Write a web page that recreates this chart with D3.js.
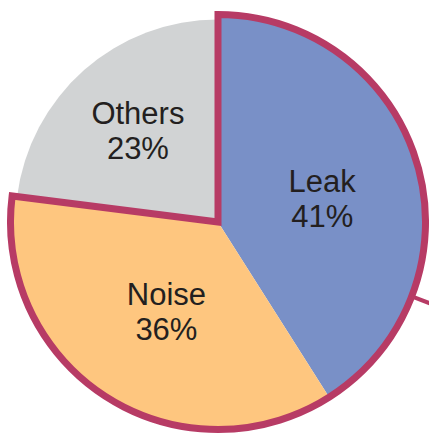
<!DOCTYPE html>
<html>
<head>
<meta charset="utf-8">
<script src="https://cdn.jsdelivr.net/npm/d3@7"></script>
<style>
  html, body { margin: 0; padding: 0; background: #fff; }
  svg { display: block; }
</style>
</head>
<body>
<svg id="chart" width="429" height="434"></svg>
<script>
const categories = ['Leak', 'Noise', 'Others']
const shares = [41, 36, 23]
const colors = ['#7990c7', '#fec67f', '#d1d3d4']
// slices that get the crimson outline together
const outlined = ['Leak', 'Noise']

const width = 429
const height = 434
const center = { x: 218, y: 222 }
const radius = 207.5
const othersRadius = 202.5
const borderColor = '#b73b65'
const borderWidth = 7
const labelRadius = 215
const labelNudge = { Leak: [1, 7], Noise: [6, -1], Others: [-9, -10] }
const leaderDeg = 111

const data = categories.map((c, i) => ({ name: c, value: shares[i], color: colors[i] }))

const pie = d3.pie().sort(null).value(d => d.value)
const arcs = pie(data)

const svg = d3.select('#chart')
const g = svg.append('g').attr('transform', `translate(${center.x},${center.y})`)

const arc = d3.arc().innerRadius(0)

// fills
g.selectAll('path.slice').data(arcs)
  .enter().append('path')
  .attr('class', 'slice')
  .attr('fill', d => d.data.color)
  .attr('d', d => arc.outerRadius(outlined.includes(d.data.name) ? radius : othersRadius)(d))

// outline around Leak + Noise as one wedge
const group = arcs.filter(d => outlined.includes(d.data.name))
const start = d3.min(group, d => d.startAngle)
const end = d3.max(group, d => d.endAngle)
g.append('path')
  .attr('fill', 'none')
  .attr('stroke', borderColor)
  .attr('stroke-width', borderWidth)
  .attr('stroke-linejoin', 'miter')
  .attr('d', d3.arc().innerRadius(0).outerRadius(radius)({ startAngle: start, endAngle: end }))

// short leader leaving the outline on the right
const leaderAngle = leaderDeg * Math.PI / 180
const pt = r => [r * Math.sin(leaderAngle), -r * Math.cos(leaderAngle)]
g.append('line')
  .attr('x1', pt(radius)[0]).attr('y1', pt(radius)[1])
  .attr('x2', pt(radius + 40)[0]).attr('y2', pt(radius + 40)[1])
  .attr('stroke', borderColor)
  .attr('stroke-width', 4)

// labels
const labelArc = d3.arc().innerRadius(0).outerRadius(labelRadius)
const labels = g.selectAll('text.label').data(arcs)
  .enter().append('text')
  .attr('class', 'label')
  .attr('text-anchor', 'middle')
  .style('font-family', '"Liberation Sans", Arial, Helvetica, sans-serif')
  .style('font-size', '31px')
  .attr('fill', '#231f20')
  .attr('transform', d => {
    const [x, y] = labelArc.centroid(d)
    const n = labelNudge[d.data.name] || [0, 0]
    return `translate(${x + n[0]},${y + n[1]})`
  })

labels.append('tspan').attr('x', 0).attr('y', -7).text(d => d.data.name)
labels.append('tspan').attr('x', 0).attr('y', 28).text(d => d.data.value + '%')
</script>
</body>
</html>
